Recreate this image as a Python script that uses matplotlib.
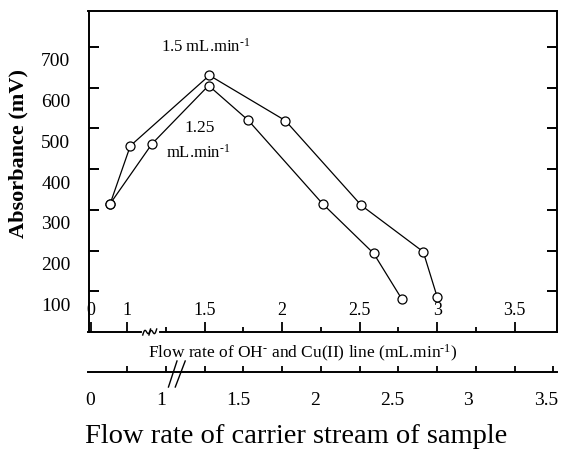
import matplotlib
matplotlib.use('Agg')
import matplotlib.pyplot as plt
import matplotlib.transforms as mtransforms
import numpy as np

plt.rcParams['font.family'] = ['Liberation Serif', 'DejaVu Serif']
plt.rcParams['mathtext.fontset'] = 'custom'
plt.rcParams['mathtext.rm'] = 'Liberation Serif'
plt.rcParams['mathtext.it'] = 'Liberation Serif:italic'
plt.rcParams['mathtext.bf'] = 'Liberation Serif:bold'

# ---- data ----
flow15_x = [0.89, 1.02, 1.53, 2.02, 2.51, 2.91, 3.00]
flow15_y = [315, 457, 630, 519, 311, 197, 86]
flow125_x = [0.89, 1.16, 1.525, 1.78, 2.26, 2.59, 2.77]
flow125_y = [315, 462, 605, 520, 315, 193, 82]

y_ticks = [100, 200, 300, 400, 500, 600, 700]
x_tick_pos = [0.765, 1.0, 1.5, 2.0, 2.5, 3.0, 3.5]
x_tick_labels = ['0', '1', '1.5', '2', '2.5', '3', '3.5']
x_minor_pos = [1.25, 1.75, 2.25, 2.75, 3.25]
carrier_label_pos = [0.76, 1.22, 1.72, 2.21, 2.71, 3.20, 3.70]
carrier_labels = ['0', '1', '1.5', '2', '2.5', '3', '3.5']
carrier_minor_pos = [0.76, 1.0, 1.25, 1.5, 1.75, 2.0, 2.25, 2.5, 2.75, 3.0, 3.25, 3.5, 3.75]

W, H = 561, 452
fig = plt.figure(figsize=(W / 100, H / 100), dpi=100)

left_px, right_px, top_px, bot_px = 88.5, 556.5, 12, 333
ax = fig.add_axes([left_px / W, 1 - bot_px / H, (right_px - left_px) / W, (bot_px - top_px) / H])
ax.set_xlim(0.75, 3.77)
ax.set_ylim(0, 788)

for s in ax.spines.values():
    s.set_linewidth(1.4)

ax.plot(flow15_x, flow15_y, '-', color='black', lw=0.9, marker='o', ms=6.5,
        mfc='white', mec='black', mew=0.9, zorder=3)
ax.plot(flow125_x, flow125_y, '-', color='black', lw=0.9, marker='o', ms=6.5,
        mfc='white', mec='black', mew=0.9, zorder=3)

# y axis
ax.set_yticks(y_ticks)
ax.set_yticklabels([str(v) for v in y_ticks], fontsize=14)
ax.tick_params(axis='y', which='major', direction='in', length=7, width=1.4,
               left=True, right=True, pad=13)
for lbl in ax.get_yticklabels():
    lbl.set_transform(lbl.get_transform() +
                      mtransforms.ScaledTranslation(0, -12 / 100, fig.dpi_scale_trans))
ax.set_ylabel('Absorbance (mV)', fontsize=16, fontweight='bold')
ax.yaxis.set_label_coords(-0.128, 0.56)

# x axis (inner labels)
ax.set_xticks(x_tick_pos)
ax.set_xticklabels(x_tick_labels, fontsize=13)
ax.set_xticks(x_minor_pos, minor=True)
ax.tick_params(axis='x', which='major', direction='in', length=7, width=1.3, pad=-22)
ax.tick_params(axis='x', which='minor', direction='in', length=3.5, width=1.3)

# break mark on main x-axis
bt = mtransforms.blended_transform_factory(ax.transData, fig.transFigure)
yb = 1 - bot_px / H
ax.plot([1.105, 1.195], [yb, yb], color='white', lw=3, transform=bt, clip_on=False, zorder=5)
t = np.linspace(0, 1, 40)
for x0 in (1.10, 1.14):
    xs = x0 + 0.05 * t
    ys = yb + (np.sin(t * 2 * np.pi) * 3 + (t - 0.5) * 6) / H
    ax.plot(xs, ys, color='black', lw=1.0, transform=bt, clip_on=False, zorder=6)

# annotations
ax.text(1.503, 702, r'1.5 mL.min$^{\text{-1}}$', fontsize=12, ha='center', va='center')
ax.text(1.465, 504, '1.25', fontsize=12.5, ha='center', va='center')
ax.text(1.458, 443, r'mL.min$^{\text{-1}}$', fontsize=12, ha='center', va='center')

# OH-/Cu(II) line label
fig.text(303 / W, 1 - 353 / H, r'Flow rate of OH$^{\text{-}}$ and Cu(II) line (mL.min$^{\text{-1}}$)',
         fontsize=12.5, ha='center', va='center')

# second (carrier stream) axis
line2_px = 373
ax2 = fig.add_axes([left_px / W, 1 - line2_px / H, (right_px - left_px) / W, 0.0001])
ax2.set_xlim(ax.get_xlim())
ax2.patch.set_visible(False)
for side in ('left', 'right', 'top'):
    ax2.spines[side].set_visible(False)
ax2.spines['bottom'].set_linewidth(1.4)
ax2.set_yticks([])
ax2.set_xticks(carrier_label_pos)
ax2.set_xticklabels(carrier_labels, fontsize=14)
ax2.set_xticks(carrier_minor_pos, minor=True)
ax2.tick_params(axis='x', which='major', length=0, pad=14)
ax2.tick_params(axis='x', which='minor', direction='in', length=4, width=1.3)

bt2 = mtransforms.blended_transform_factory(ax2.transData, fig.transFigure)
for xa, xb in ((1.266, 1.321), (1.31, 1.374)):
    ax2.plot([xa, xb], [1 - 388 / H, 1 - 362 / H], color='black', lw=1.0,
             transform=bt2, clip_on=False)

fig.text(296 / W, 1 - 437 / H, 'Flow rate of carrier stream of sample',
         fontsize=20.5, ha='center', va='center')

fig.savefig('out.png', dpi=100)
